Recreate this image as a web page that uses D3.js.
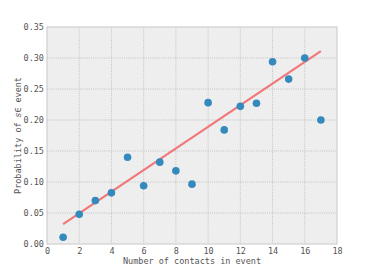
<!DOCTYPE html>
<html>
<head>
<meta charset="utf-8">
<script src="https://cdn.jsdelivr.net/npm/d3@7"></script>
<style>
  body { margin: 0; background: #fff; }
  text { font-family: "DejaVu Sans Mono", monospace; }
</style>
</head>
<body>
<svg id="chart" width="374" height="272"></svg>
<script>
// Data
let contacts = [1, 2, 3, 4, 5, 6, 7, 8, 9, 10, 11, 12, 13, 14, 15, 16, 17];
let probability = [0.011, 0.048, 0.070, 0.0825, 0.140, 0.094, 0.132, 0.118, 0.0965,
  0.228, 0.184, 0.222, 0.227, 0.294, 0.266, 0.300, 0.200];
let fitX = [1, 17];
let fitY = [0.032, 0.311];
let xTicks = [0, 2, 4, 6, 8, 10, 12, 14, 16, 18];
let yTicks = [0, 0.05, 0.10, 0.15, 0.20, 0.25, 0.30, 0.35];

let svg = d3.select("svg#chart"),
  margin = { top: 27, right: 37, bottom: 28, left: 47 },
  width = 374 - margin.left - margin.right,
  height = 272 - margin.top - margin.bottom,
  g = svg.append("g").attr("transform", "translate(" + margin.left + "," + margin.top + ")");

let colors = {
  "bg": "#eeeeee",
  "grid": "#b8b8b8",
  "frame": "#d0d0d0",
  "text": "#555555",
  "point": "#348abd",
  "fit": "#f07878"
};

let x = d3.scaleLinear().domain([0, 18]).range([0, width]);
let y = d3.scaleLinear().domain([0, 0.35]).range([height, 0]);

// Background
g.append("rect")
  .attr("width", width)
  .attr("height", height)
  .attr("fill", colors.bg);

// Grid
g.append("g")
  .selectAll("line")
  .data(xTicks.slice(1, -1))
  .enter()
  .append("line")
  .attr("x1", d => x(d)).attr("x2", d => x(d))
  .attr("y1", 0).attr("y2", height)
  .attr("stroke", colors.grid)
  .attr("stroke-width", 0.8)
  .attr("stroke-dasharray", "1,1.2");

g.append("g")
  .selectAll("line")
  .data(yTicks.slice(1, -1))
  .enter()
  .append("line")
  .attr("x1", 0).attr("x2", width)
  .attr("y1", d => y(d)).attr("y2", d => y(d))
  .attr("stroke", colors.grid)
  .attr("stroke-width", 0.8)
  .attr("stroke-dasharray", "1,1.2");

// Frame
g.append("rect")
  .attr("width", width)
  .attr("height", height)
  .attr("fill", "none")
  .attr("stroke", colors.frame)
  .attr("stroke-width", 1.2);

// Axes
let xAxis = g.append("g")
  .attr("transform", "translate(0," + height + ")")
  .call(d3.axisBottom(x).tickValues(xTicks).tickSize(0).tickPadding(4).tickFormat(d3.format("d")));
let yAxis = g.append("g")
  .call(d3.axisLeft(y).tickValues(yTicks).tickSize(0).tickPadding(3).tickFormat(d3.format(".2f")));

[xAxis, yAxis].forEach(a => {
  a.select(".domain").remove();
  a.selectAll("text")
    .style("font-family", "'DejaVu Sans Mono', monospace")
    .style("font-size", "8.5px")
    .attr("fill", colors.text);
});

// Axis labels
g.append("text")
  .attr("x", width / 2)
  .attr("y", height + 20)
  .style("font-size", "8.5px")
  .style("text-anchor", "middle")
  .attr("fill", colors.text)
  .text("Number of contacts in event");

let ylab = g.append("text")
  .attr("transform", "rotate(-90)")
  .attr("x", -height / 2)
  .attr("y", -26)
  .style("font-size", "8.5px")
  .style("text-anchor", "middle")
  .attr("fill", colors.text);
ylab.append("tspan").text("Probability of ");
ylab.append("tspan").style("font-style", "italic").style("font-family", "'DejaVu Serif', serif").text("s");
ylab.append("tspan").text("\u2208 event");

// Fit line
g.append("line")
  .attr("x1", x(fitX[0])).attr("y1", y(fitY[0]))
  .attr("x2", x(fitX[1])).attr("y2", y(fitY[1]))
  .attr("stroke", colors.fit)
  .attr("stroke-width", 2.2);

// Points
g.append("g")
  .selectAll("circle")
  .data(contacts)
  .enter()
  .append("circle")
  .attr("cx", (d, i) => x(d))
  .attr("cy", (d, i) => y(probability[i]))
  .attr("r", 3.8)
  .attr("fill", colors.point);
</script>
</body>
</html>
